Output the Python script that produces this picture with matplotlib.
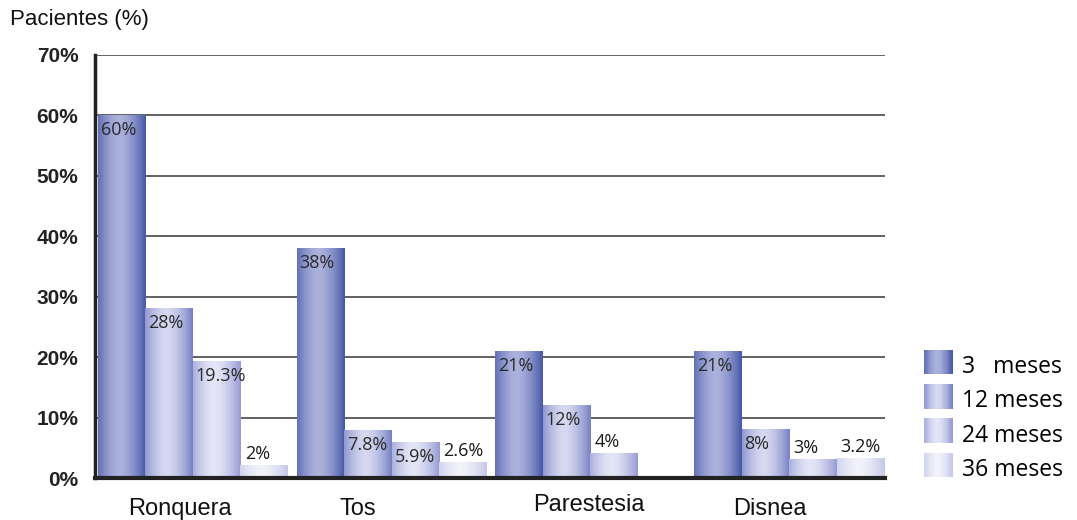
import numpy as np
import matplotlib
matplotlib.use('Agg')
import matplotlib.pyplot as plt
from matplotlib.patches import Rectangle
from matplotlib.legend_handler import HandlerBase

categorias = ['Ronquera', 'Tos', 'Parestesia', 'Disnea']
series = ['3   meses', '12 meses', '24 meses', '36 meses']
m3 = [60, 38, 21, 21]
m12 = [28, 7.8, 12, 8]
m24 = [19.3, 5.9, 4, 3]
m36 = [2, 2.6, None, 3.2]
etiquetas = [['60%', '38%', '21%', '21%'],
             ['28%', '7.8%', '12%', '8%'],
             ['19.3%', '5.9%', '4%', '3%'],
             ['2%', '2.6%', '', '3.2%']]
yticks = [0, 10, 20, 30, 40, 50, 60, 70]

# edge colour / light centre colour of each series (cylinder look)
edge = [(70, 88, 168), (118, 128, 196), (150, 156, 212), (196, 200, 232)]
light = [(172, 178, 220), (214, 217, 240), (228, 230, 246), (242, 242, 250)]


def grad(i, n=64):
    t = np.linspace(0, 1, n)
    f = 1 - np.abs((t - 0.45) / 0.55) ** 1.6
    f = np.clip(f, 0, 1)
    e = np.array(edge[i]) / 255
    l = np.array(light[i]) / 255
    return (e[None, :] * (1 - f[:, None]) + l[None, :] * f[:, None])


class GradHandler(HandlerBase):
    def __init__(self, idx):
        super().__init__()
        self.idx = idx

    def create_artists(self, legend, orig, xd, yd, w, h, fs, trans):
        cols = grad(self.idx, 24)
        arts = []
        for k, c in enumerate(cols):
            r = Rectangle((xd + w * k / len(cols), yd - 0.15 * h), w / len(cols) * 1.05, h * 1.3,
                          facecolor=c, edgecolor='none', transform=trans)
            arts.append(r)
        return arts


fig = plt.figure(figsize=(10.77, 5.20), dpi=100)
ax = fig.add_axes([95 / 1077, 42 / 520, 790 / 1077, 423 / 520])

w = 0.239
x = np.arange(len(categorias))
handles = []
for i, vals in enumerate([m3, m12, m24, m36]):
    xs = [x[k] + i * w for k in range(len(vals)) if vals[k] is not None]
    vs = [v for v in vals if v is not None]
    labs = [etiquetas[i][k] for k in range(len(vals)) if vals[k] is not None]
    bars = ax.bar(xs, vs, width=w, align='edge', color='none', edgecolor='none', zorder=3)
    handles.append(bars)
    g = grad(i)[None, :, :]
    for b, lab, v in zip(bars, labs, vs):
        x0, y0 = b.get_x(), b.get_y()
        ax.imshow(g, extent=[x0, x0 + b.get_width(), y0, y0 + b.get_height()],
                  aspect='auto', zorder=3, interpolation='bilinear')
        if v >= 5:
            ax.annotate(lab, (x0, v), xytext=(2, -4), textcoords='offset points',
                        ha='left', va='top', fontsize=13, color='#2a2a2a',
                        family='Open Sans', zorder=5)
        else:
            ax.annotate(lab, (x0, v), xytext=(3, 2), textcoords='offset points',
                        ha='left', va='bottom', fontsize=13, color='#1a1a1a',
                        family='Open Sans', zorder=5)

ax.set_xlim(-0.0151, 3.961)
ax.set_ylim(0, 70)
ax.set_yticks(yticks)
ax.set_yticklabels([f'{t}%' for t in yticks], fontsize=15, fontweight='bold',
                   family='Liberation Sans', color='#222222')
ax.tick_params(axis='y', length=0, pad=12)
ax.set_xticks([])
ax.yaxis.grid(True, color='#555555', linewidth=1.3, zorder=0)
ax.set_axisbelow(True)
for s in ['top', 'right']:
    ax.spines[s].set_visible(False)
ax.spines['left'].set_linewidth(2.5)
ax.spines['left'].set_color('#222222')
ax.spines['bottom'].set_linewidth(3)
ax.spines['bottom'].set_color('#222222')
ax.spines['bottom'].set_zorder(6)

cat_pos = [0.41, 1.31, 2.47, 3.38]
cat_dy = [0, 0, 2.5, 0]
for p, c, d in zip(cat_pos, categorias, cat_dy):
    ax.annotate(c, (p, 0), xycoords=('data', 'axes fraction'), xytext=(0, -22 + d),
                textcoords='offset points', ha='center', va='center', fontsize=17,
                family='Liberation Sans', color='#111111')

fig.text(10 / 1077, 1 - 20 / 520, 'Pacientes (%)', fontsize=16, family='Liberation Sans',
         va='center', ha='left', color='#111111')

leg = fig.legend(handles, series, loc='upper left', bbox_to_anchor=(915 / 1077, 1 - 346 / 520),
                 frameon=False, handler_map={h: GradHandler(k) for k, h in enumerate(handles)},
                 prop={'family': 'Open Sans', 'size': 16.5}, handlelength=1.25, handleheight=0.9,
                 handletextpad=0.4, labelspacing=0.45, borderaxespad=0)

fig.savefig('out.png', dpi=100)
